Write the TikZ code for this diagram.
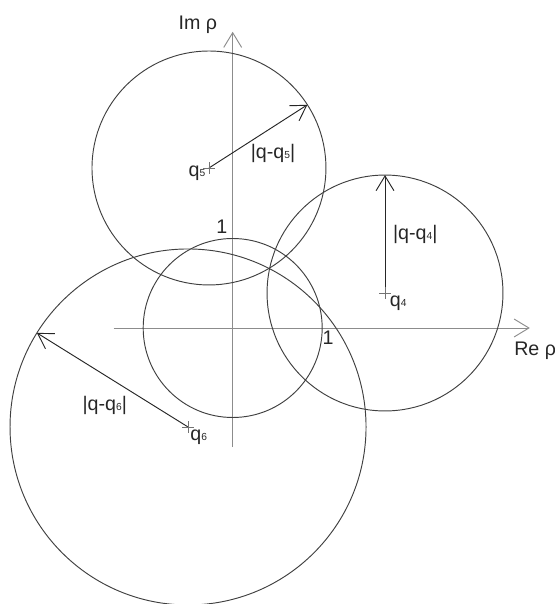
\documentclass[tikz,border=0pt]{standalone}
\usepackage{fontspec}
\setmainfont{Liberation Sans}
\usetikzlibrary{arrows.meta}
\newcommand{\qsub}[1]{{\fontsize{6.5}{7}\selectfont #1}}

\begin{document}
\begin{tikzpicture}[x=2cm, y=2cm,
    font=\fontsize{12.5}{15}\selectfont,
    axis/.style={draw=black!45, line width=0.6pt,
        -{Straight Barb[length=3.3mm, width=4mm]}},
    circ/.style={draw=black!75, line width=0.6pt},
    radarrow/.style={draw=black!85, line width=0.6pt,
        -{Straight Barb[length=3.3mm, width=4mm]}},
    qcross/.style={draw=black!55, line width=0.5pt},
    lab/.style={inner sep=0pt, text=black!85},
  ]
  \useasboundingbox (-2.600,-3.084) rectangle (3.601,3.665);

  % Axes
  \coordinate (O) at (0,0);
  \coordinate (xmin) at (-1.33,0);
  \coordinate (xmax) at (3.32,0);
  \coordinate (ymin) at (0,-1.33);
  \coordinate (ymax) at (0,3.31);
  \draw[axis] (xmin) -- (xmax);
  \draw[axis] (ymin) -- (ymax);
  \node[lab] (re) at (3.38,-0.25) {Re ρ};
  \node[lab] (im) at (-0.39,3.385) {Im ρ};

  % Unit circle
  \draw[circ] (O) circle[radius=1];
  \node[lab] (one y) at (-0.12,1.13) {1};
  \node[lab] (one x) at (1.065,-0.11) {1};

  % Circles around q4, q5, q6 with their radii
  \foreach \k/\x/\y/\r/\a in {
      4/1.702/0.391/1.318/90,
      5/-0.265/1.788/1.307/32.7,
      6/-0.499/-1.106/1.989/148.1}{
      \coordinate (q\k) at (\x,\y);
      \draw[circ] (q\k) circle[radius=\r];
      \path (q\k) ++(\a:\r) coordinate (r\k);
      \draw[radarrow] (q\k) -- (r\k);
      % cross at the centre
      \draw[qcross] ([xshift=-0.13cm]q\k) -- ([xshift=0.13cm]q\k)
        ([yshift=-0.13cm]q\k) -- ([yshift=0.13cm]q\k);
    }

  % Labels
  \node[lab] (q4 lab) at (1.85,0.28) {q\qsub{4}};
  \node[lab] (q5 lab) at (-0.40,1.73) {q\qsub{5}};
  \node[lab] (q6 lab) at (-0.38,-1.22) {q\qsub{6}};
  \node[lab] (d4) at (2.04,1.04) {|q-q\qsub{4}|};
  \node[lab] (d5) at (0.45,1.955) {|q-q\qsub{5}|};
  \node[lab] (d6) at (-1.43,-0.86) {|q-q\qsub{6}|};
\end{tikzpicture}
\end{document}
